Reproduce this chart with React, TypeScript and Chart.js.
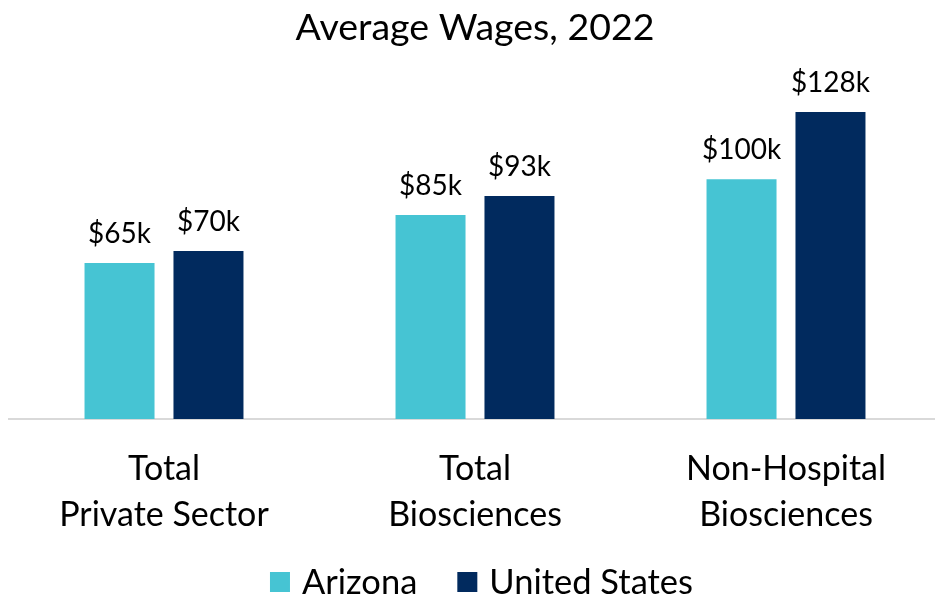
import React, { useEffect, useRef } from "react";
import { Chart, registerables } from "chart.js";

Chart.register(...registerables);

const categories: string[][] = [
  ["Total", "Private Sector"],
  ["Total", "Biosciences"],
  ["Non-Hospital", "Biosciences"],
];
const seriesNames = ["Arizona", "United States"];
const arizona = [65, 85, 100];
const unitedStates = [70, 93, 128];
const colors = ["#46C4D3", "#012A5E"];
const FONT = "Lato, 'Noto Sans', sans-serif";

const CANVAS_W = 950;
const CANVAS_H = 599;
const PLOT_BOTTOM = 419;

const valueLabels = {
  id: "valueLabels",
  afterDatasetsDraw(chart: any) {
    const ctx = chart.ctx;
    ctx.save();
    ctx.font = `28px ${FONT}`;
    ctx.fillStyle = "#000";
    ctx.textAlign = "center";
    ctx.textBaseline = "alphabetic";
    chart.data.datasets.forEach((ds: any, i: number) => {
      const meta = chart.getDatasetMeta(i);
      meta.data.forEach((bar: any, j: number) => {
        ctx.fillText(`$${ds.data[j]}k`, bar.x, bar.y - 20);
      });
    });
    ctx.restore();
  },
};

// Bottom legend drawn from the chart's datasets (square swatches, centred row)
const bottomLegend = {
  id: "bottomLegend",
  afterDraw(chart: any) {
    const ctx = chart.ctx;
    const box = 20;
    const textGap = 12;
    const itemGap = 40;
    const centerX = 481.5;
    const boxTop = 572;
    const baseline = 594;
    ctx.save();
    ctx.font = `34.5px ${FONT}`;
    const items = chart.data.datasets.map((ds: any) => ({
      label: ds.label,
      color: ds.backgroundColor,
      w: ctx.measureText(ds.label).width,
    }));
    const total =
      items.reduce((s: number, it: any) => s + box + textGap + it.w, 0) +
      itemGap * (items.length - 1);
    let x = centerX - total / 2;
    ctx.textBaseline = "alphabetic";
    ctx.textAlign = "left";
    items.forEach((it: any) => {
      ctx.fillStyle = it.color;
      ctx.fillRect(x, boxTop, box, box);
      ctx.fillStyle = "#000";
      ctx.fillText(it.label, x + box + textGap, baseline);
      x += box + textGap + it.w + itemGap;
    });
    ctx.restore();
  },
};

export default function App() {
  const ref = useRef<HTMLCanvasElement>(null);
  useEffect(() => {
    if (!ref.current) return;
    const chart = new Chart(ref.current, {
      type: "bar",
      data: {
        labels: categories,
        datasets: [
          { label: seriesNames[0], data: arizona, backgroundColor: colors[0] },
          { label: seriesNames[1], data: unitedStates, backgroundColor: colors[1] },
        ],
      },
      options: {
        responsive: false,
        animation: false,
        devicePixelRatio: 1,
        layout: { padding: { left: 8.5, right: 8.5, top: 0, bottom: 0 } },
        datasets: { bar: { categoryPercentage: 0.572, barPercentage: 0.787 } },
        scales: {
          x: {
            grid: { display: false },
            border: { display: true, color: "#D9D9D9", width: 2 },
            ticks: {
              color: "#000",
              font: { family: FONT, size: 34, lineHeight: 1.353 },
              padding: 19,
              maxRotation: 0,
            },
            afterFit: (scale: any) => {
              scale.height = CANVAS_H - PLOT_BOTTOM;
            },
          },
          y: { display: false, min: 0, max: 150 },
        },
        plugins: {
          title: {
            display: true,
            text: "Average Wages, 2022",
            color: "#000",
            font: { family: FONT, size: 37.5, weight: "normal" },
            padding: { top: 5, bottom: 9.2 },
          },
          legend: { display: false },
          tooltip: { enabled: false },
        },
      },
      plugins: [valueLabels, bottomLegend],
    });
    return () => chart.destroy();
  }, []);
  return (
    <div style={{ position: "fixed", left: 0, top: 0, width: 935, height: 599, overflow: "hidden", background: "#fff" }}>
      <canvas ref={ref} width={CANVAS_W} height={CANVAS_H} style={{ width: CANVAS_W, height: CANVAS_H, display: "block" }} />
    </div>
  );
}
